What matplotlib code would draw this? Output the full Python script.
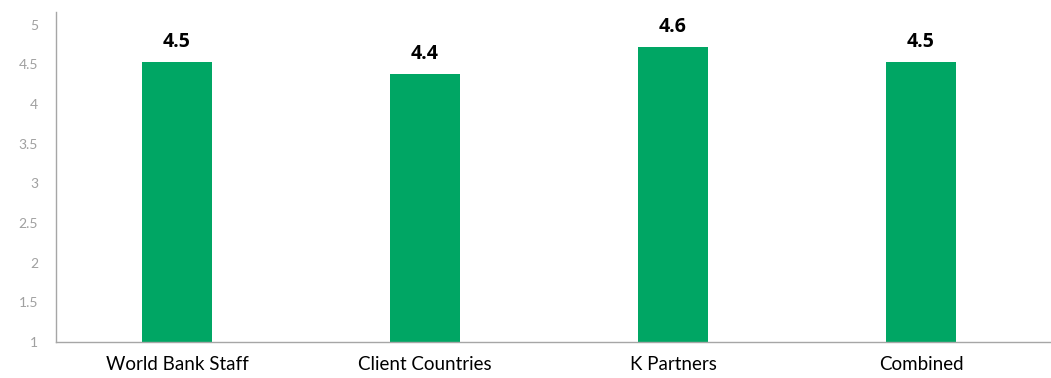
import matplotlib.pyplot as plt

categories = ['World Bank Staff', 'Client Countries', 'K Partners', 'Combined']
scores = [4.53, 4.38, 4.72, 4.53]
score_labels = ['4.5', '4.4', '4.6', '4.5']
y_ticks = [1, 1.5, 2, 2.5, 3, 3.5, 4, 4.5, 5]

plt.rcParams['font.family'] = ['Lato', 'DejaVu Sans']

fig = plt.figure(figsize=(10.51, 3.78), dpi=100)
ax = fig.add_axes([0.0533, 0.0952, 0.9467, 0.873])

x = range(len(categories))
bars = ax.bar(x, [s - 1 for s in scores], bottom=1, width=0.28, color='#00a664')

for b, lab in zip(bars, score_labels):
    ax.annotate(lab, (b.get_x() + b.get_width() / 2, b.get_y() + b.get_height()),
                xytext=(0, 7), textcoords='offset points', ha='center', va='bottom',
                fontsize=14, fontweight='bold', color='black',
                family=['Open Sans', 'DejaVu Sans'])

ax.set_xlim(-0.488, len(categories) - 0.476)
ax.set_ylim(1, 5.16)
ax.set_yticks(y_ticks)
ax.set_yticklabels(['%g' % t for t in y_ticks])
ax.set_xticks(list(x))
ax.set_xticklabels(categories)

for s in ['top', 'right']:
    ax.spines[s].set_visible(False)
for s in ['left', 'bottom']:
    ax.spines[s].set_color('#a6a6a6')
    ax.spines[s].set_linewidth(1)

ax.tick_params(axis='y', length=0, pad=13, labelsize=10, labelcolor='#a0a0a0')
ax.tick_params(axis='x', length=0, pad=10, labelsize=13.5, labelcolor='black')

fig.savefig('out.png', dpi=100)
